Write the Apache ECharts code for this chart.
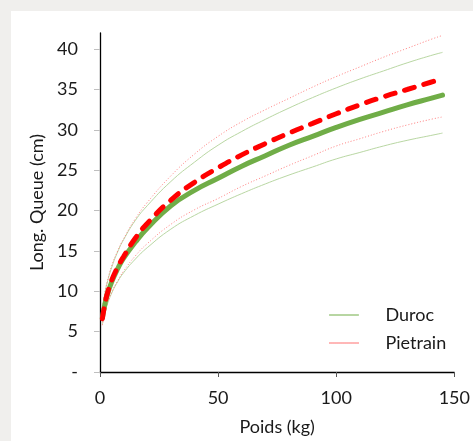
<!DOCTYPE html>
<html>
<head>
<meta charset="utf-8">
<script src="https://cdn.jsdelivr.net/npm/echarts@6/dist/echarts.min.js"></script>
<style>
html,body{margin:0;padding:0;background:#f0efed;}
#c{width:473px;height:441px;}
</style>
</head>
<body>
<div id="c"></div>
<script>
const weights = [1, 2, 3, 5, 7.5, 10, 15, 20, 30, 40, 50, 60, 70, 80, 90, 100, 110, 120, 130, 140, 145];
const durocMean  = [6.7, 8.3, 9.5, 11.2, 12.8, 14.1, 16.1, 17.8, 20.6, 22.5, 24.0, 25.5, 26.8, 28.1, 29.2, 30.3, 31.3, 32.2, 33.1, 33.9, 34.3];
const durocHigh  = [7.6, 9.6, 11.0, 13.0, 14.9, 16.4, 18.8, 20.6, 23.6, 26.0, 28.1, 29.8, 31.3, 32.7, 34.0, 35.2, 36.3, 37.3, 38.3, 39.2, 39.6];
const durocLow   = [5.9, 7.3, 8.3, 9.8, 11.2, 12.3, 14.0, 15.4, 17.7, 19.4, 20.8, 22.1, 23.3, 24.4, 25.4, 26.4, 27.2, 28.0, 28.7, 29.3, 29.6];
const pietMean   = [6.6, 8.3, 9.6, 11.4, 13.0, 14.3, 16.6, 18.4, 21.3, 23.5, 25.3, 26.9, 28.3, 29.6, 30.8, 32.0, 33.1, 34.1, 35.0, 35.9, 36.3];
const pietHigh   = [7.7, 9.7, 11.1, 13.2, 15.0, 16.5, 19.0, 21.0, 24.3, 27.0, 29.2, 31.0, 32.5, 33.9, 35.3, 36.6, 37.8, 39.0, 40.1, 41.2, 41.7];
const pietLow    = [5.8, 7.3, 8.4, 9.9, 11.3, 12.5, 14.4, 15.9, 18.3, 20.1, 21.5, 23.0, 24.3, 25.6, 26.8, 28.0, 28.9, 29.8, 30.6, 31.3, 31.6];
const yTicks = [0, 5, 10, 15, 20, 25, 30, 35, 40];
const xTicks = [0, 50, 100, 150];

const pairs = ys => weights.map((w, i) => [w, ys[i]]);
const font = 'Lato';
const fs = 18;
const chart = echarts.init(document.getElementById('c'));
chart.setOption({
  animation: false,
  backgroundColor: '#f0efed',
  graphic: [{type: 'rect', z: -10, shape: {x: 11, y: 11, width: 470, height: 440}, style: {fill: '#ffffff'}}],
  grid: {left: 100, right: 16, top: 33, bottom: 61},
  legend: {
    orient: 'vertical', left: 329, top: 306, padding: 0,
    itemWidth: 29, itemHeight: 14, itemGap: 10,
    textStyle: {fontFamily: font, fontSize: fs, color: '#1a1a1a', padding: [0, 0, 0, 22]},
    data: [
      {name: 'Duroc', itemStyle: {opacity: 0}, lineStyle: {color: '#70AD47', width: 1, type: 'solid'}},
      {name: 'Pietrain', itemStyle: {opacity: 0}, lineStyle: {color: '#FF6060', width: 1, type: [1, 1]}}
    ]
  },
  xAxis: {
    type: 'value', min: 0, max: 150, interval: 50,
    name: 'Poids (kg)', nameLocation: 'middle', nameGap: 46,
    nameTextStyle: {fontFamily: font, fontSize: fs, color: '#1a1a1a'},
    axisLine: {show: true, lineStyle: {color: '#000', width: 1.3}},
    axisTick: {show: true, length: 5, lineStyle: {color: '#555'}, customValues: xTicks},
    axisLabel: {fontFamily: font, fontSize: fs, color: '#1a1a1a', margin: 17, customValues: xTicks},
    splitLine: {show: false}
  },
  yAxis: {
    type: 'value', min: 0, max: 42, interval: 5,
    name: 'Long. Queue (cm)', nameLocation: 'middle', nameGap: 50,
    nameTextStyle: {fontFamily: font, fontSize: fs, color: '#1a1a1a'},
    axisLine: {show: true, lineStyle: {color: '#000', width: 1.3}},
    axisTick: {show: true, length: 6, lineStyle: {color: '#bfbfbf'}, customValues: yTicks},
    axisLabel: {fontFamily: font, fontSize: fs, color: '#1a1a1a', margin: 22, customValues: yTicks,
      formatter: v => v === 0 ? '-' : String(v)},
    splitLine: {show: false}
  },
  series: [
    {name: 'Duroc haut', type: 'line', smooth: true, symbol: 'none', data: pairs(durocHigh),
      lineStyle: {color: '#B9D7A3', width: 1}},
    {name: 'Duroc bas', type: 'line', smooth: true, symbol: 'none', data: pairs(durocLow),
      lineStyle: {color: '#B9D7A3', width: 1}},
    {name: 'Pietrain haut', type: 'line', smooth: true, symbol: 'none', data: pairs(pietHigh),
      lineStyle: {color: '#FF8080', width: 1, type: [1, 2]}},
    {name: 'Pietrain bas', type: 'line', smooth: true, symbol: 'none', data: pairs(pietLow),
      lineStyle: {color: '#FF8080', width: 1, type: [1, 2]}},
    {name: 'Duroc', type: 'line', smooth: true, symbol: 'none', data: pairs(durocMean),
      itemStyle: {color: '#70AD47'}, lineStyle: {color: '#70AD47', width: 5, cap: 'round'}},
    {name: 'Pietrain', type: 'line', smooth: true, symbol: 'none', data: pairs(pietMean),
      itemStyle: {color: '#FF0000'}, lineStyle: {color: '#FF0000', width: 5, type: [10, 10], cap: 'round'}}
  ]
});
</script>
</body>
</html>
